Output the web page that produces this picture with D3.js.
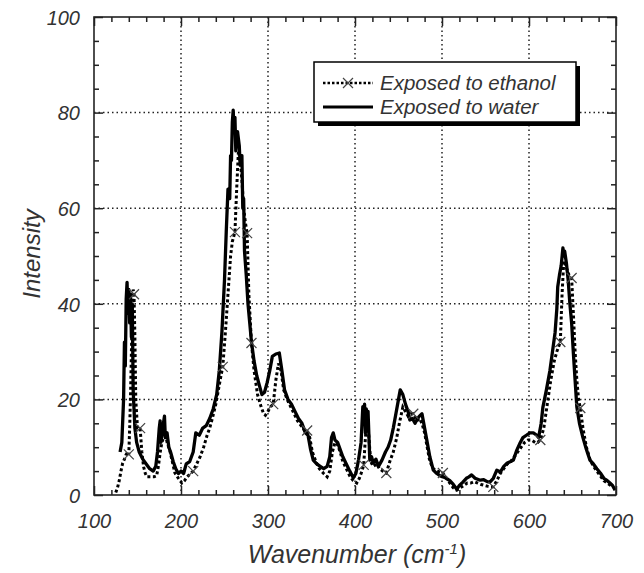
<!DOCTYPE html>
<html>
<head>
<meta charset="utf-8">
<script src="https://cdn.jsdelivr.net/npm/d3@7"></script>
<style>
  body { margin: 0; background: #fff; }
  text { font-family: "Liberation Sans", Arial, sans-serif; font-style: italic; fill: #333; }
</style>
</head>
<body>
<svg id="chart" width="644" height="573"></svg>
<script>
// water spectrum (solid line)
var waterWn = [130,132,134,135,136,137,138,139,140,141,142,143,144,145,146,147,149,152,156,160,164,168,171,173,175,176,177,179,181,182,184,186,188,191,194,197,200,203,206,210,214,217,221,225,229,233,237,241,244,247,250,252,254,256,257,258,259,260,261,262,263,265,267,268,270,271,272,273,275,277,279,281,284,287,290,293,296,299,302,305,309,313,316,319,323,327,331,335,339,343,346,349,352,356,360,364,368,371,373,375,377,380,383,386,390,394,398,401,404,407,409,410,411,412,413,414,415,417,419,421,424,427,431,435,438,441,444,447,450,452,455,458,461,463,466,469,471,474,477,480,483,486,490,494,498,501,505,509,513,517,520,524,528,531,534,538,541,544,548,552,555,559,563,567,571,575,579,582,586,590,593,597,601,605,609,611,614,616,620,624,627,630,632,633,635,637,639,640,641,643,645,647,649,651,653,655,658,662,666,670,674,678,682,686,690,693,696,699];
var waterI = [9,11,20,32,27,41,44.5,38,43,36,42,33,40,22,18,14,11,9,7.5,6.5,5.5,5,6,9,14,15.5,11,14,16.5,12,13,10,9,7,5.5,4.5,5,4.5,6.5,7,9,13,12.5,14,14.5,16,18,21,26,34,45,55,64,62,71,70,78,80.5,76,79,72,76,73,69,71,60,62,51,46,40,36,32,28,25,23,21,21.5,23.5,26,29,29.5,29.7,26,22,20,19,17.5,16,15,13,12.5,9.5,7.3,6.5,6,5.5,6,8,12,13,11.5,11,9.5,8,6.5,5,3.6,4.5,7.3,11,18.5,15,19,13,18,14,17.5,7.3,8,6.7,7.5,6,7.3,9,10,11.5,14,17,20,22,21,19,17.5,15.7,16,15,15.7,16.5,17,14,11,8,5.2,4.5,4,3.8,3.5,3,2.2,1.2,2,2.7,3.5,3.8,4.2,3.5,3.3,3.1,3.2,2.8,2.7,3.5,5.2,4.8,6,6.7,7,7.3,9.4,11,12,12.5,13,13,12.5,12,15,18.4,22,26,30,34,39,43.5,46,48,51.7,50,51,48.5,45,40,36,29.7,24,18.4,15,12,9.5,7.3,6.5,5.5,4.6,3.5,3,2.5,2,1];

// ethanol spectrum (dotted line with x markers)
var ethanolWn = [125,127,129,131,133,135,137,139,140,141,142,143,144,145,146,147,148,150,153,155,157,159,161,165,169,172,174,176,178,180,182,184,187,190,193,197,201,204,207,211,214,218,222,226,230,233,236,240,243,246,248,251,254,257,259,262,264,266,268,270,272,274,276,278,281,284,288,292,295,297,300,303,306,309,312,315,318,322,326,330,334,338,342,345,348,351,355,359,364,368,371,374,377,380,383,386,390,394,398,402,405,408,410,412,414,416,418,421,425,428,432,436,440,444,448,451,455,458,461,464,467,471,474,477,480,483,486,490,494,498,501,505,509,513,517,521,525,529,533,537,541,545,549,553,556,559,563,567,571,575,579,583,587,591,595,599,603,607,610,613,617,621,625,629,632,634,636,638,640,642,644,646,649,651,653,655,657,659,662,666,670,674,678,682,686,690,694,697];
var ethanolI = [0.5,1.5,3,5,6.7,7.5,8.5,9,8.5,14,21,30,38,43,42,33,20,14,14,9,5.9,4.5,3.8,3.8,3.8,4,6,8.8,11,12,13,11,9.4,7,4.6,3.5,2.5,3,3.8,4.5,5,6.5,8,10,12.5,14,16,19,22,25,26.8,34,42,50,53,55,64,72,70,66,60,57,54.8,42,31.8,26,21,18.5,17,16.7,17.5,18.5,19,24,27.5,26,22,20,18.5,17,15.5,14.5,13.5,13.5,12,9,7,5.5,4.5,3.8,5,9,11,10.5,9,7,5.5,4,3,2.5,3.5,5,6.3,12,17,12,7,6,6.5,5.5,5,4.6,7,9,12,15,18.4,17.5,16.5,17,17,15.5,16,15,13,10,7,5.5,5,4.8,4.6,3.5,2.5,1.5,1,1.5,2,2.5,2.5,2.8,2.5,2.2,2,1.8,1.7,1.7,3,4.5,5.5,6.5,7,8,9,10,11,11.5,11.5,11,11,11.5,14,19,24,28,30,31,32,42,49,48,47,46,45.4,38,30,24,20,18.2,14,10,7.5,6,5,4,3,2.5,2,1.7];
var ethanolMarks = [140,146,153,214,248,262,276,281,306,345,410,436,467,501,559,613,636,649,659];

var xTicks = [100,200,300,400,500,600,700];
var yTicks = [0,20,40,60,80,100];
var seriesNames = ["Exposed to ethanol", "Exposed to water"];

var svg = d3.select("#chart");
var box = {left: 94, right: 616, top: 17, bottom: 495};

var x = d3.scaleLinear().domain([100, 700]).range([box.left, box.right]);
var y = d3.scaleLinear().domain([0, 100]).range([box.bottom, box.top]);

var water = waterWn.map((w, i) => ({w: w, v: waterI[i]}));
var ethanol = ethanolWn.map((w, i) => ({w: w, v: ethanolI[i]}));

// dotted grid
var grid = svg.append("g").attr("stroke", "#222").attr("stroke-width", 1.5).attr("stroke-dasharray", "1.5,3");
grid.selectAll(".gx").data(xTicks.slice(1, -1)).enter().append("line")
  .attr("x1", d => x(d)).attr("x2", d => x(d)).attr("y1", box.top).attr("y2", box.bottom);
grid.selectAll(".gy").data(yTicks.slice(1, -1)).enter().append("line")
  .attr("y1", d => y(d)).attr("y2", d => y(d)).attr("x1", box.left).attr("x2", box.right);

// ticks on all four sides, pointing in
var xMinor = d3.range(100, 701, 20).filter(d => d % 100 != 0);
var yMinor = d3.range(0, 101, 5).filter(d => d % 20 != 0);

function tickAxis(axis, tr) {
  var g = svg.append("g").attr("transform", tr).call(axis);
  g.select(".domain").remove();
  g.selectAll("line").attr("stroke", "#222").attr("stroke-width", 1.5);
  g.attr("font-family", null).attr("font-size", null);
  return g;
}
tickAxis(d3.axisBottom(x).tickValues(xMinor).tickSize(-5).tickFormat(""), `translate(0,${box.bottom})`);
tickAxis(d3.axisTop(x).tickValues(xMinor).tickSize(-5).tickFormat(""), `translate(0,${box.top})`);
tickAxis(d3.axisLeft(y).tickValues(yMinor).tickSize(-5).tickFormat(""), `translate(${box.left},0)`);
tickAxis(d3.axisRight(y).tickValues(yMinor).tickSize(-5).tickFormat(""), `translate(${box.right},0)`);
tickAxis(d3.axisTop(x).tickValues(xTicks).tickSize(-9).tickFormat(""), `translate(0,${box.top})`);
tickAxis(d3.axisRight(y).tickValues(yTicks).tickSize(-9).tickFormat(""), `translate(${box.right},0)`);

var xAx = tickAxis(d3.axisBottom(x).tickValues(xTicks).tickSize(-9).tickPadding(18), `translate(0,${box.bottom})`);
xAx.selectAll("text").style("font-size", "20px").attr("fill", "#333").attr("y", 26).attr("dy", "0.36em");
var yAx = tickAxis(d3.axisLeft(y).tickValues(yTicks).tickSize(-9).tickPadding(14), `translate(${box.left},0)`);
yAx.selectAll("text").style("font-size", "20px").attr("fill", "#333").attr("x", -14).attr("dy", "0.36em");

// lines
svg.append("clipPath").attr("id", "clip").append("rect")
  .attr("x", box.left).attr("y", box.top).attr("width", box.right - box.left).attr("height", box.bottom - box.top);

var line = d3.line().x(d => x(d.w)).y(d => y(d.v));

svg.append("path").datum(ethanol).attr("clip-path", "url(#clip)")
  .attr("fill", "none").attr("stroke", "#000").attr("stroke-width", 3)
  .attr("stroke-dasharray", "3,2.5").attr("d", line);

svg.append("path").datum(water).attr("clip-path", "url(#clip)")
  .attr("fill", "none").attr("stroke", "#000").attr("stroke-width", 3.3)
  .attr("stroke-linejoin", "round").attr("d", line);

var marks = ethanolMarks.map(w => ethanol.find(d => d.w == w));
var cross = "M-5,-5L5,5M-5,5L5,-5";
svg.selectAll(".mk").data(marks).enter().append("path")
  .attr("transform", d => `translate(${x(d.w)},${y(d.v)})`)
  .attr("d", cross).attr("stroke", "#444").attr("stroke-width", 1.2).attr("fill", "none");

// frame
svg.append("rect").attr("x", box.left).attr("y", box.top)
  .attr("width", box.right - box.left).attr("height", box.bottom - box.top)
  .attr("fill", "none").attr("stroke", "#222").attr("stroke-width", 1.6);

// legend
var lg = svg.append("g").attr("transform", "translate(314,62)");
lg.append("rect").attr("x", 4).attr("y", 4).attr("width", 262).attr("height", 60).attr("fill", "#000");
lg.append("rect").attr("width", 262).attr("height", 60).attr("fill", "#fff").attr("stroke", "#000").attr("stroke-width", 1.5);
lg.append("line").attr("x1", 9).attr("x2", 59).attr("y1", 21).attr("y2", 21)
  .attr("stroke", "#000").attr("stroke-width", 2.4).attr("stroke-dasharray", "2.5,2");
lg.append("path").attr("transform", "translate(34,21)").attr("d", cross).attr("stroke", "#444").attr("stroke-width", 1.2);
lg.append("line").attr("x1", 9).attr("x2", 59).attr("y1", 45).attr("y2", 45)
  .attr("stroke", "#000").attr("stroke-width", 3);
lg.selectAll(".lt").data(seriesNames).enter().append("text")
  .attr("x", 66).attr("y", (d, i) => 21 + i * 24).attr("dy", "0.36em")
  .style("font-size", "20.5px").text(d => d);

// axis titles
var xt = svg.append("text").attr("x", (box.left + box.right) / 2 + 2).attr("y", 563)
  .attr("text-anchor", "middle").style("font-size", "25px");
xt.append("tspan").text("Wavenumber (cm");
xt.append("tspan").attr("dy", -9).style("font-size", "15px").text("-1");
xt.append("tspan").attr("dy", 9).text(")");

svg.append("text").attr("transform", "translate(40,254) rotate(-90)")
  .attr("text-anchor", "middle").style("font-size", "24px").text("Intensity");
</script>
</body>
</html>
